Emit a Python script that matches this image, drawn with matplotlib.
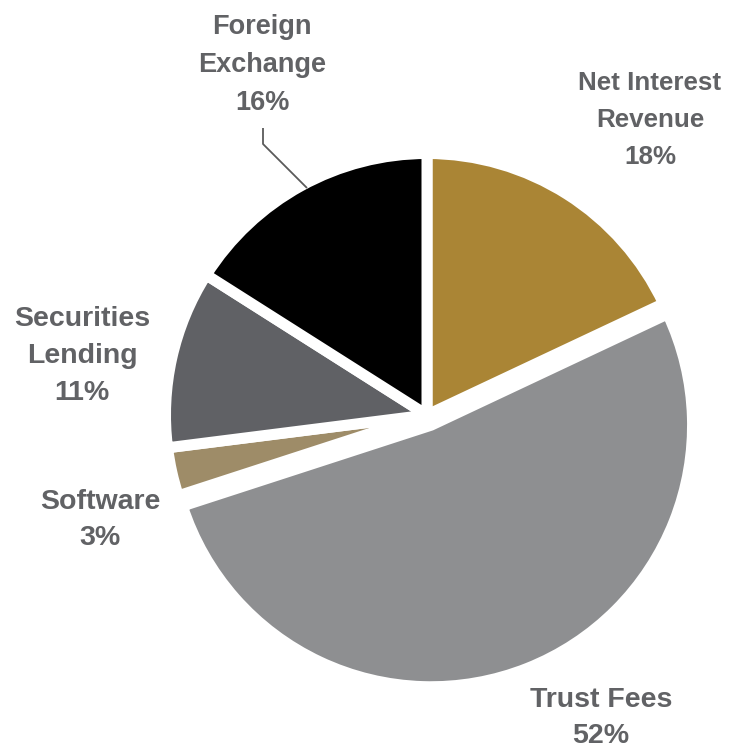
import matplotlib
matplotlib.use("Agg")
import matplotlib.pyplot as plt

# Revenue mix by segment
segments = ["Net Interest\nRevenue", "Trust Fees", "Software", "Securities\nLending", "Foreign\nExchange"]
shares = [18, 52, 3, 11, 16]
colors = ["#AA8535", "#8E8F91", "#9E8C68", "#606165", "#000000"]
explode = [0, 11, 0, 0, 0]   # offset in data units (pixels here)

# label placement (pixel coords, y measured from top) and font sizes
label_xy = [(650, 120), (601, 718), (100, 520), (82, 356), (262, 65)]
label_size = [18.7, 20.5, 20.5, 20.5, 19.5]

W, H = 745, 750
fig = plt.figure(figsize=(W / 100, H / 100), dpi=100)
ax = fig.add_axes([0, 0, 1, 1])

edge_px = 11
cx, cy, r = 427, 415, 256 + edge_px / 2
ax.pie(shares, colors=colors, explode=explode, startangle=90, counterclock=False,
       center=(cx, H - cy), radius=r,
       wedgeprops=dict(edgecolor="white", linewidth=edge_px * 72 / 100, joinstyle="bevel"))

text_color = "#616265"
for name, val, (x, y), fs in zip(segments, shares, label_xy, label_size):
    ax.text(x, H - y, f"{name}\n{val}%", ha="center", va="center", multialignment="center",
            fontsize=fs, fontweight="bold", color=text_color,
            family=["Liberation Sans", "DejaVu Sans"],
            linespacing=1.58 * 20 / fs)

# leader line for the Foreign Exchange label
ax.plot([263, 263, 307], [H - 128, H - 144, H - 188], color="#5A5A5A", lw=1.3,
        solid_capstyle="butt")

ax.set_xlim(0, W)
ax.set_ylim(0, H)
ax.set_aspect("equal")
ax.axis("off")
fig.savefig("out.png", dpi=100, facecolor="white")
